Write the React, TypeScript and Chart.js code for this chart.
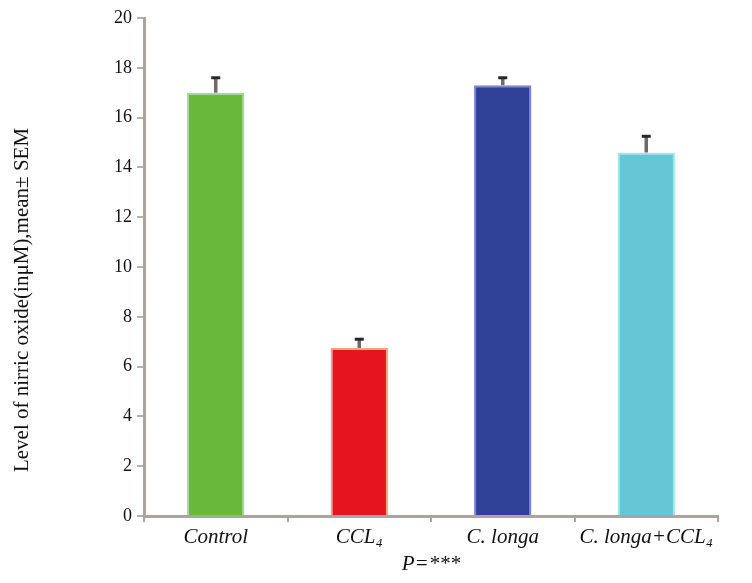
import React, { useEffect, useRef } from "react";
import { Chart, registerables } from "chart.js";

Chart.register(...registerables);

const categories = ["Control", "CCL₄", "C. longa", "C. longa+CCL₄"];
const means = [17.0, 6.75, 17.3, 14.6];
const sems = [0.6, 0.35, 0.3, 0.65];
const barColors = ["#69b83a", "#e5141f", "#2f4197", "#66c6d6"];
const barBorders = ["#a6d98a", "#f4a184", "#7d88c9", "#a8e2ec"];
const yTicks = [0, 2, 4, 6, 8, 10, 12, 14, 16, 18, 20];
const yTitle = "Level of nirric oxide(inμM),mean± SEM";

const errorBarPlugin = {
  id: "errorBars",
  afterDatasetsDraw(chart: any) {
    const ctx = chart.ctx;
    const meta = chart.getDatasetMeta(0);
    const ys = chart.scales.y;
    ctx.save();
    meta.data.forEach((bar: any, i: number) => {
      const x = bar.x;
      const yv = ys.getPixelForValue(means[i]);
      const yt = ys.getPixelForValue(means[i] + sems[i]);
      ctx.strokeStyle = "#706a66";
      ctx.lineWidth = 3.5;
      ctx.beginPath();
      ctx.moveTo(x, yv);
      ctx.lineTo(x, yt);
      ctx.stroke();
      ctx.strokeStyle = "#262626";
      ctx.lineWidth = 3;
      ctx.beginPath();
      ctx.moveTo(x - 4.5, yt);
      ctx.lineTo(x + 4.5, yt);
      ctx.stroke();
    });
    ctx.restore();
  },
};

const yTitlePlugin = {
  id: "yTitle",
  afterDraw(chart: any) {
    const ctx = chart.ctx;
    const area = chart.chartArea;
    ctx.save();
    ctx.translate(22, (area.top + area.bottom) / 2 + 33);
    ctx.rotate(-Math.PI / 2);
    ctx.font = "21px 'Liberation Serif'";
    ctx.fillStyle = "#111";
    ctx.textAlign = "center";
    ctx.textBaseline = "middle";
    ctx.fillText(yTitle, 0, 0);
    ctx.restore();
  },
};

export default function App() {
  const ref = useRef<HTMLCanvasElement>(null);
  useEffect(() => {
    document.body.style.margin = "0";
    const chart = new Chart(ref.current!, {
      type: "bar",
      data: {
        labels: categories,
        datasets: [
          {
            data: means,
            backgroundColor: barColors,
            borderColor: barBorders,
            borderWidth: 2,
            categoryPercentage: 0.8,
            barPercentage: 0.5,
          },
        ],
      },
      options: {
        animation: false,
        responsive: false,
        layout: { padding: { top: 18, right: 34, bottom: 0, left: 0 } },
        plugins: { legend: { display: false }, tooltip: { enabled: false } },
        scales: {
          x: {
            afterFit(scale: any) {
              scale.height = 67;
            },
            border: { color: "#a9a4a0", width: 3 },
            grid: {
              display: true,
              drawOnChartArea: false,
              drawTicks: true,
              tickLength: 6,
              color: "#a9a4a0",
              lineWidth: 2,
              offset: true,
            },
            ticks: {
              color: "#111",
              padding: 3,
              font: { family: "Liberation Serif", size: 21, style: "italic" },
            },
            title: {
              display: true,
              text: "P=***",
              color: "#111",
              padding: { top: 0, bottom: 6 },
              font: { family: "Liberation Serif", size: 21, style: "italic" },
            },
          },
          y: {
            min: 0,
            max: 20,
            afterFit(scale: any) {
              scale.width = 144;
            },
            afterBuildTicks(scale: any) {
              scale.ticks = yTicks.map((v) => ({ value: v }));
            },
            border: { color: "#a9a4a0", width: 3 },
            grid: {
              display: true,
              drawOnChartArea: false,
              drawTicks: true,
              tickLength: 7,
              color: "#b4b0ad",
              lineWidth: 2,
            },
            ticks: {
              color: "#111",
              padding: 5,
              font: { family: "Liberation Serif", size: 18 },
            },
            title: { display: false },
          },
        },
      },
      plugins: [errorBarPlugin, yTitlePlugin],
    });
    return () => chart.destroy();
  }, []);
  return (
    <div style={{ width: 752, height: 583, background: "#fff" }}>
      <canvas ref={ref} width={752} height={583} />
    </div>
  );
}
